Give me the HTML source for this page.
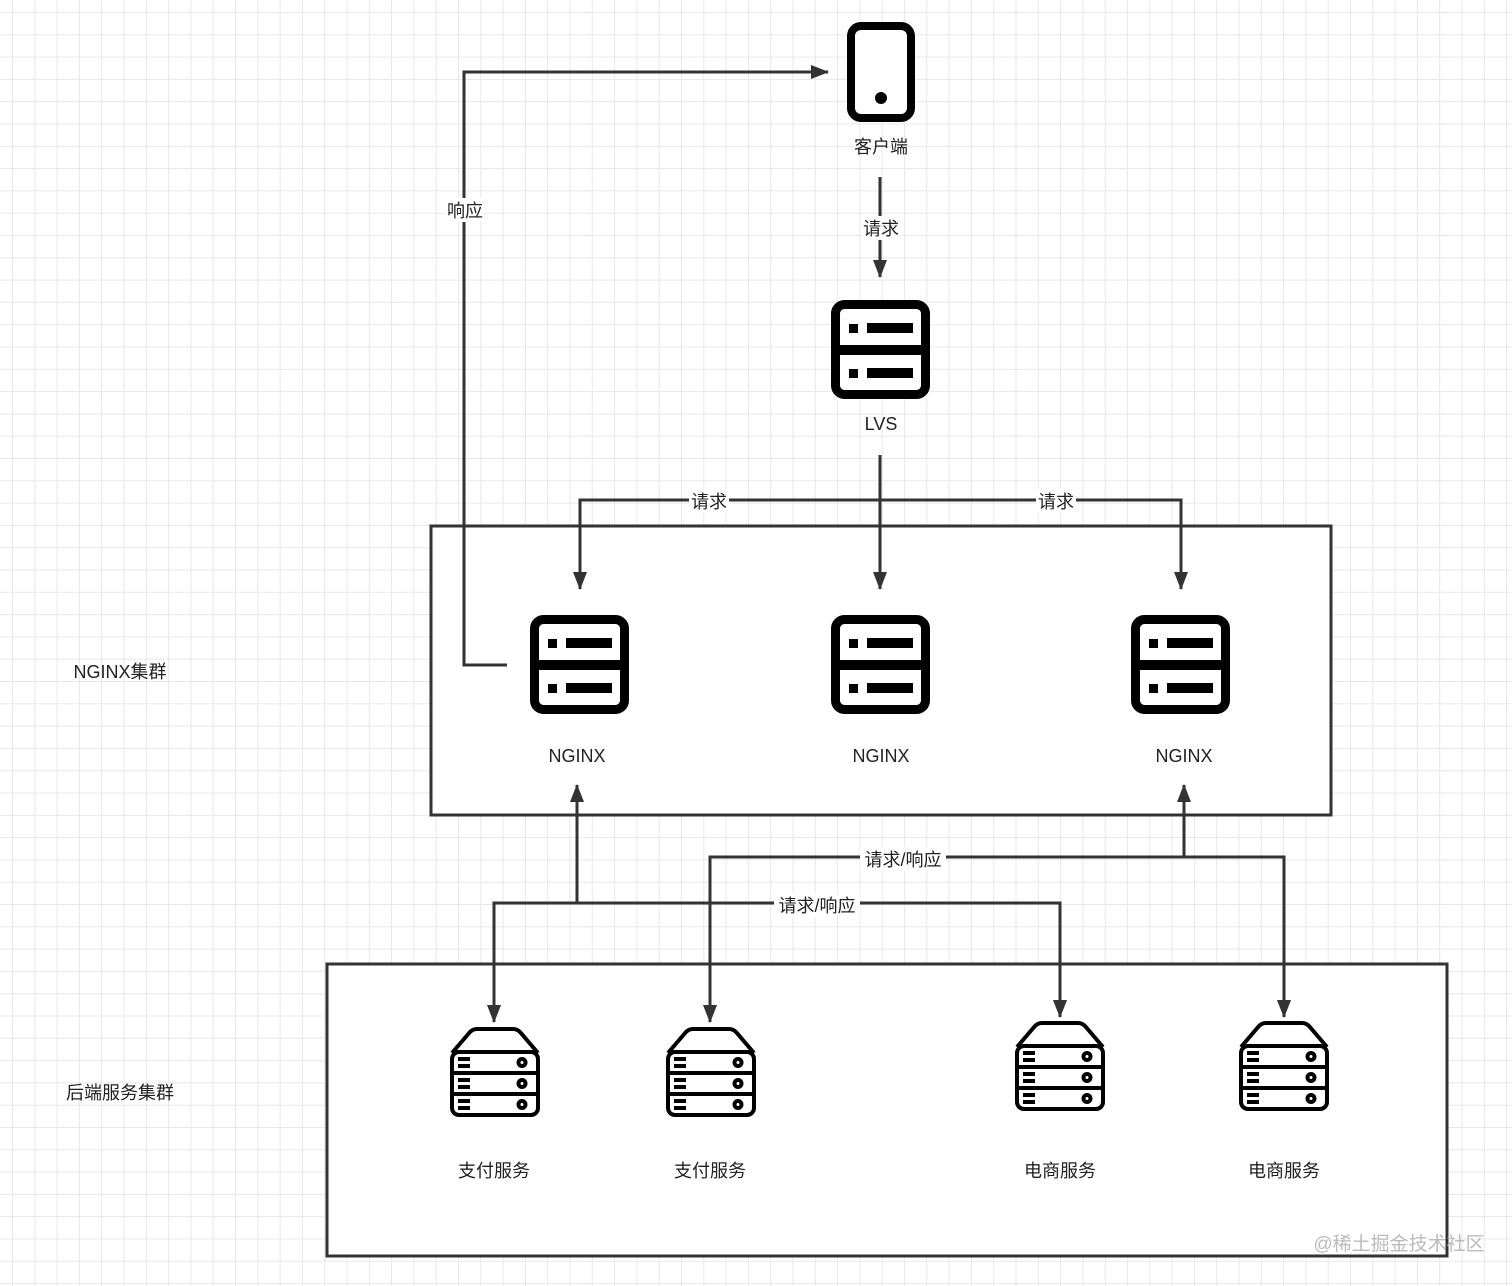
<!DOCTYPE html>
<html><head><meta charset="utf-8"><style>
html,body{margin:0;padding:0;background:#fff;}
svg{display:block;}
text{font-family:"Liberation Sans","Noto Sans CJK SC",sans-serif;font-size:18px;fill:#222;}
</style></head><body>
<svg width="1512" height="1286" viewBox="0 0 1512 1286" xmlns="http://www.w3.org/2000/svg">
<defs>
<pattern id="grid" x="12" y="12" width="22.3" height="22.3" patternUnits="userSpaceOnUse">
<path d="M0 0H22.3M0 0V22.3" stroke="#e8e8e8" stroke-width="2" fill="none"/>
</pattern>
<marker id="ah" markerWidth="18" markerHeight="16" refX="17" refY="7" orient="auto" markerUnits="userSpaceOnUse">
<path d="M0,0 L18,7 L0,14 Z" fill="#333"/>
</marker>
<g id="srv">
<rect x="4.5" y="4.5" width="90" height="90" rx="9" fill="#fff" stroke="#000" stroke-width="9"/>
<rect x="4" y="45" width="91" height="10" fill="#000"/>
<rect x="18" y="24" width="9" height="9" fill="#000"/>
<rect x="36" y="23" width="46" height="10" fill="#000"/>
<rect x="18" y="69" width="9" height="9" fill="#000"/>
<rect x="36" y="68" width="46" height="10" fill="#000"/>
</g>
<g id="bk" fill="none" stroke="#000" stroke-width="4">
<path d="M2,26 L20,5 Q23,2 27,2 L63,2 Q67,2 70,5 L88,26" fill="#fff"/>
<rect x="2" y="25" width="86" height="63" rx="7" fill="#fff"/>
<line x1="2" y1="46" x2="88" y2="46"/>
<line x1="2" y1="67" x2="88" y2="67"/>
<line x1="8" y1="32" x2="20" y2="32"/><line x1="8" y1="39" x2="20" y2="39"/>
<line x1="8" y1="53" x2="20" y2="53"/><line x1="8" y1="60" x2="20" y2="60"/>
<line x1="8" y1="74" x2="20" y2="74"/><line x1="8" y1="81" x2="20" y2="81"/>
<circle cx="72" cy="35.5" r="3.5"/><circle cx="72" cy="56.5" r="3.5"/><circle cx="72" cy="77.5" r="3.5"/>
</g>
</defs>
<rect width="1512" height="1286" fill="url(#grid)"/>

<rect x="431" y="526" width="900" height="289" fill="#fff" stroke="#333" stroke-width="3"/>
<rect x="327" y="964" width="1120" height="292" fill="#fff" stroke="#333" stroke-width="3"/>

<g stroke="#333" stroke-width="3" fill="none">
<line x1="880" y1="177" x2="880" y2="277" marker-end="url(#ah)"/>
<line x1="880" y1="455" x2="880" y2="589" marker-end="url(#ah)"/>
<path d="M580,589 V500 H1181 V589" />
<line x1="580" y1="570" x2="580" y2="589" marker-end="url(#ah)"/>
<line x1="1181" y1="570" x2="1181" y2="589" marker-end="url(#ah)"/>
<path d="M507,665 H464 V72 H828" marker-end="url(#ah)"/>
<path d="M577,903 V785" marker-end="url(#ah)"/>
<path d="M494,1022 V903 H1060 V1017"/>
<line x1="494" y1="1000" x2="494" y2="1022" marker-end="url(#ah)"/>
<line x1="1060" y1="995" x2="1060" y2="1017" marker-end="url(#ah)"/>
<path d="M1184,857 V785" marker-end="url(#ah)"/>
<path d="M710,1022 V857 H1284 V1017"/>
<line x1="710" y1="1000" x2="710" y2="1022" marker-end="url(#ah)"/>
<line x1="1284" y1="995" x2="1284" y2="1017" marker-end="url(#ah)"/>
</g>

<rect x="862" y="216" width="38" height="24" fill="#fff"/><text x="881" y="235" text-anchor="middle">请求</text>
<rect x="689" y="489" width="40" height="24" fill="#fff"/><text x="709" y="508" text-anchor="middle">请求</text>
<rect x="1036" y="489" width="40" height="24" fill="#fff"/><text x="1056" y="508" text-anchor="middle">请求</text>
<rect x="446" y="198" width="38" height="24" fill="#fff"/><text x="465" y="217" text-anchor="middle">响应</text>
<rect x="860" y="847" width="86" height="24" fill="#fff"/><text x="903" y="866" text-anchor="middle">请求/响应</text>
<rect x="774" y="893" width="86" height="24" fill="#fff"/><text x="817" y="912" text-anchor="middle">请求/响应</text>

<rect x="851" y="26" width="60" height="92" rx="10" fill="#fff" stroke="#000" stroke-width="8"/>
<circle cx="881" cy="98" r="6" fill="#000"/>
<text x="881" y="153" text-anchor="middle">客户端</text>

<use href="#srv" x="831" y="300"/>
<text x="881" y="430" text-anchor="middle">LVS</text>

<use href="#srv" x="530" y="615"/>
<use href="#srv" x="831" y="615"/>
<use href="#srv" x="1131" y="615"/>
<text x="577" y="762" text-anchor="middle">NGINX</text>
<text x="881" y="762" text-anchor="middle">NGINX</text>
<text x="1184" y="762" text-anchor="middle">NGINX</text>
<text x="120" y="678" text-anchor="middle">NGINX集群</text>
<text x="120" y="1099" text-anchor="middle">后端服务集群</text>

<use href="#bk" x="450" y="1027"/>
<use href="#bk" x="666" y="1027"/>
<use href="#bk" x="1015" y="1021"/>
<use href="#bk" x="1239" y="1021"/>
<text x="494" y="1177" text-anchor="middle">支付服务</text>
<text x="710" y="1177" text-anchor="middle">支付服务</text>
<text x="1060" y="1177" text-anchor="middle">电商服务</text>
<text x="1284" y="1177" text-anchor="middle">电商服务</text>

<text x="1399" y="1250" text-anchor="middle" style="fill:#bbb;font-size:19px">@稀土掘金技术社区</text>
</svg>
</body></html>
